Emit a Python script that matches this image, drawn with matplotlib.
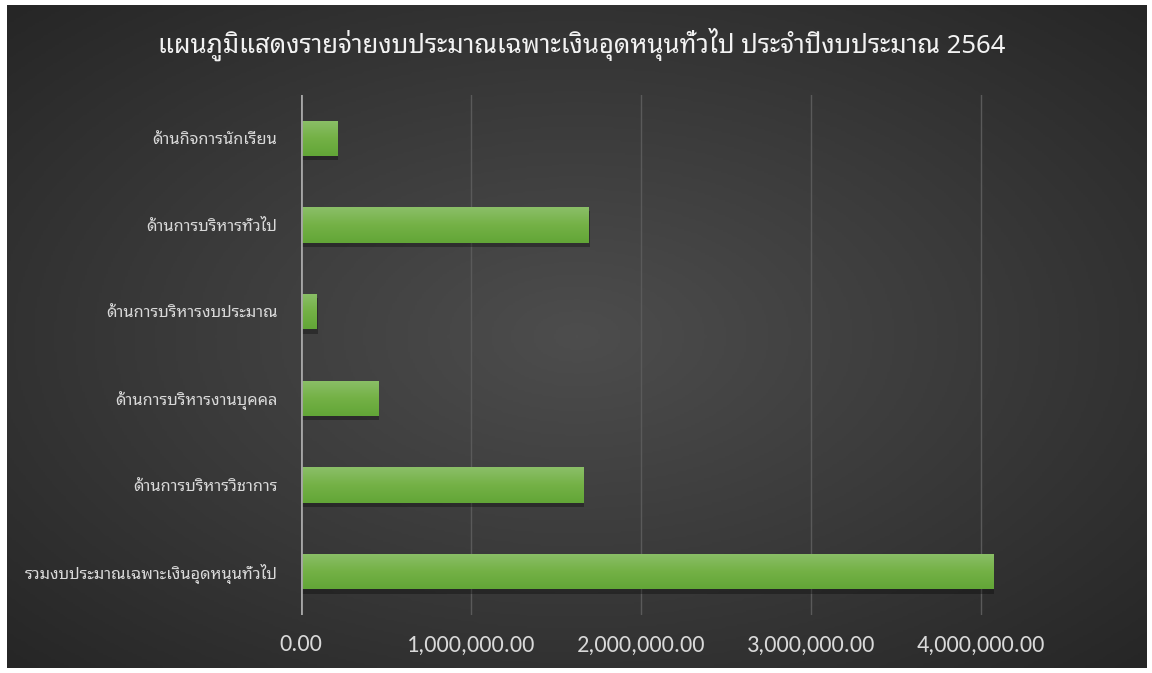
import numpy as np
import matplotlib
matplotlib.use("Agg")
import matplotlib.pyplot as plt
from matplotlib.colors import LinearSegmentedColormap
import matplotlib.patheffects as pe

# datos del grafico
categorias = [
    "ด้านกิจการนักเรียน",
    "ด้านการบริหารทั่วไป",
    "ด้านการบริหารงบประมาณ",
    "ด้านการบริหารงานบุคคล",
    "ด้านการบริหารวิชาการ",
    "รวมงบประมาณเฉพาะเงินอุดหนุนทั่วไป",
]
valores = [212000, 1694000, 94000, 453000, 1659000, 4071000]
ticks_x = [0, 1000000, 2000000, 3000000, 4000000]
titulo = "แผนภูมิแสดงรายจ่ายงบประมาณเฉพาะเงินอุดหนุนทั่วไป ประจำปีงบประมาณ 2564"

fam = ["Noto Sans Thai Looped", "DejaVu Sans"]
fam_num = ["Carlito", "Archivo Narrow", "DejaVu Sans"]

fig = plt.figure(figsize=(11.52, 6.73), dpi=100, facecolor="white")

# fondo con degradado radial
bg = fig.add_axes([7 / 1152, 5 / 673, 1140 / 1152, 663 / 673])
yy, xx = np.mgrid[-1:1:300j, -1:1:500j]
r = np.sqrt(xx ** 2 + yy ** 2) / np.sqrt(2)
fondo = LinearSegmentedColormap.from_list("f", ["#4d4d4d", "#3a3a3a", "#262626"])
bg.imshow(r, cmap=fondo, vmin=0, vmax=1, aspect="auto", extent=[0, 1, 0, 1])
bg.set_axis_off()

ax = fig.add_axes([301 / 1152, 1 - 615 / 673, 765 / 1152, 520 / 673])
ax.patch.set_alpha(0)
pos = np.arange(len(categorias))[::-1]
barras = ax.barh(pos, valores, height=0.41, color="#70ad47", zorder=3)
verde = LinearSegmentedColormap.from_list("g", ["#62a637", "#74b146", "#8bbf68"])
for b in barras:
    b.set_path_effects([pe.SimplePatchShadow(offset=(1, -3), shadow_rgbFace="black", alpha=0.3),
                        pe.Normal()])
    x0, y0 = b.get_x(), b.get_y()
    w, h = b.get_width(), b.get_height()
    grad = np.linspace(0, 1, 64).reshape(-1, 1)
    im = ax.imshow(grad, cmap=verde, aspect="auto",
                   extent=[x0, x0 + w, y0, y0 + h], origin="lower", zorder=4)
    im.set_clip_path(b)

ax.set_xlim(0, 4500000)
ax.set_ylim(-0.5, 5.5)
ax.set_xticks(ticks_x)
ax.set_xticklabels([f"{v:,.2f}" for v in ticks_x], family=fam_num, fontsize=17.5, color="#d9d9d9")
ax.set_yticks(pos)
ax.set_yticklabels(categorias, family=fam, fontsize=11.8, color="#d9d9d9")
ax.tick_params(axis="x", length=0, pad=14)
ax.tick_params(axis="y", length=0, pad=17)
for s in ax.spines.values():
    s.set_visible(False)
ax.axvline(0, color="#a6a6a6", lw=2, zorder=5)
ax.grid(axis="x", color="#5a5a5a", lw=1, zorder=1)
ax.set_axisbelow(True)

fig.text(582 / 1152, 1 - 44 / 673, titulo, family=fam, fontsize=18.5, color="#f2f2f2",
         ha="center", va="center")

fig.savefig("out.png", dpi=100, facecolor=fig.get_facecolor())
